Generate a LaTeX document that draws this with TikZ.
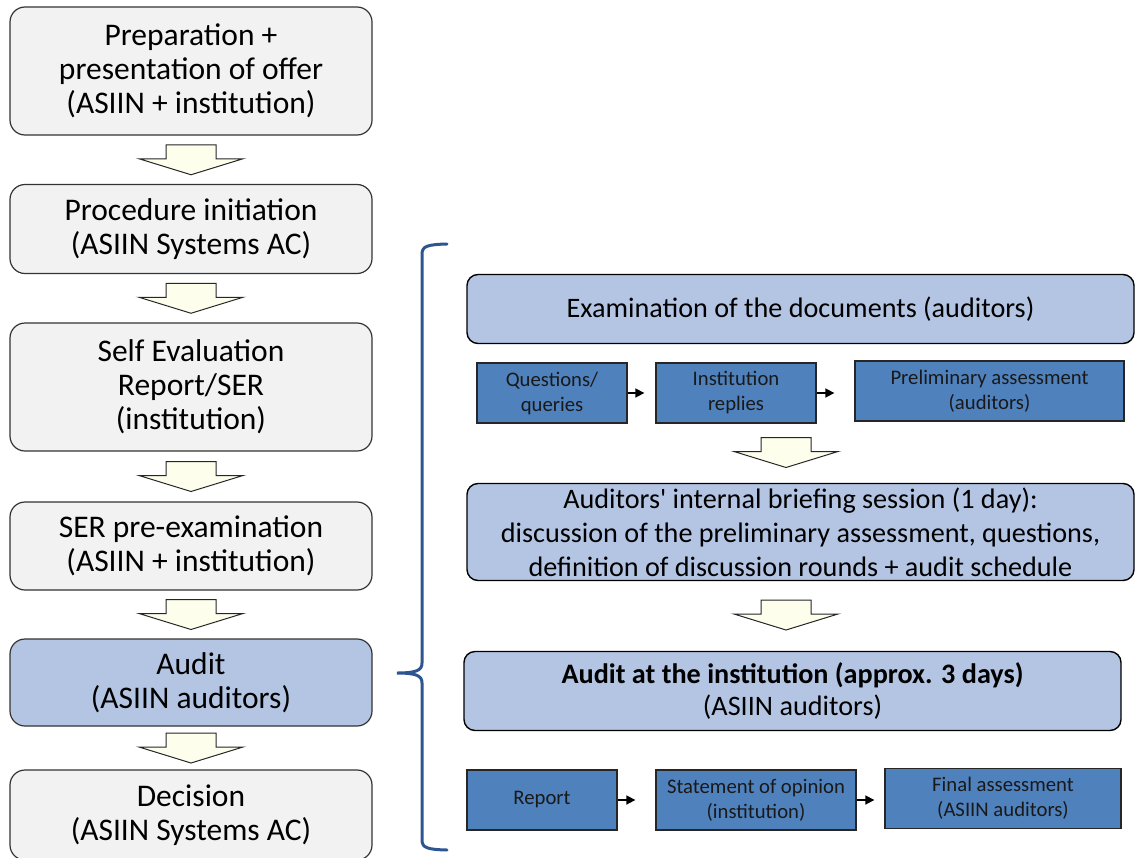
\documentclass[tikz,border=0pt]{standalone}
\usepackage{fontspec}
\setmainfont{Carlito}
\usetikzlibrary{arrows.meta,calc}
\definecolor{leftgray}{HTML}{F2F2F2}
\definecolor{lightblue}{HTML}{B4C5E4}
\definecolor{darkblue}{HTML}{4F81BD}
\definecolor{arrowfill}{HTML}{FEFEEC}
\definecolor{bracecol}{HTML}{2E5591}
\begin{document}
\begin{tikzpicture}[x=1pt,y=-1pt,
  leftbox/.style={draw=black!80, line width=1.2pt, fill=leftgray, rounded corners=15pt,
    minimum width=362pt, align=center, inner sep=0pt, font=\fontsize{31.5}{34}\selectfont},
  rightbox/.style={draw=black, line width=1.4pt, fill=lightblue, rounded corners=11pt,
    align=center, inner sep=0pt, font=\fontsize{28.2}{34}\selectfont},
  smallbox/.style={draw=black!85, line width=1.3pt, fill=darkblue, align=center, inner sep=0pt,
    text=black!90, font=\fontsize{20.7}{25}\selectfont},
  smallarrow/.style={draw=black, line width=1.6pt, -{Triangle[length=9pt,width=9pt]}},
  pics/blockarrow/.style={code={
    \draw[fill=arrowfill, draw=black!85, line width=1pt, line join=miter]
      (-25,-15) -- (25,-15) -- (25,-1) -- (52,-1) -- (0,15) -- (-52,-1) -- (-25,-1) -- cycle;}}
]
\useasboundingbox (0,0) rectangle (1135,857);

% left column
\node[leftbox, minimum height=128pt] (prep) at (191,71) {Preparation +\\presentation of offer\\(ASIIN + institution)};
\node[leftbox, minimum height=89pt] (init) at (191,229) {Procedure initiation\\(ASIIN Systems AC)};
\node[leftbox, minimum height=128pt] (ser) at (191,387) {Self Evaluation\\Report/SER\\(institution)};
\node[leftbox, minimum height=88pt] (pre) at (191,546) {SER pre-examination\\(ASIIN + institution)};
\node[leftbox, fill=lightblue, minimum height=87pt] (audit) at (191,682.5) {Audit\\(ASIIN auditors)};
\node[leftbox, minimum height=90pt] (dec) at (191,815) {Decision\\(ASIIN Systems AC)};

\pic at ($(prep.south)!0.5!(init.north)$) {blockarrow};
\pic at ($(init.south)!0.5!(ser.north)$) {blockarrow};
\pic at ($(ser.south)!0.5!(pre.north)$) {blockarrow};
\pic at ($(pre.south)!0.5!(audit.north)$) {blockarrow};
\pic at ($(audit.south)!0.5!(dec.north)$) {blockarrow};

% brace
\draw[bracecol, line width=3pt, line cap=round]
  (447,244) .. controls (428,244.5) and (422,246) .. (422,254) -- (422,663)
  .. controls (422,670) and (417,673) .. (397,673)
  .. controls (417,673) and (422,676) .. (422,683) -- (422,840)
  .. controls (422,848) and (428,849.5) .. (447,850);

% right column
\node[rightbox, minimum width=667pt, minimum height=69pt] (exam) at (800.5,309) {Examination of the documents (auditors)};
\node[smallbox, minimum width=150pt, minimum height=60pt] (qq) at (552,393) {Questions/\\queries};
\node[smallbox, minimum width=160pt, minimum height=60pt] (ir) at (736,393) {Institution\\replies};
\node[smallbox, minimum width=269pt, minimum height=60pt] (pa) at (989.5,391) {Preliminary assessment\\(auditors)};
\draw[smallarrow, shorten >=11pt] (qq.east) -- (qq.east -| ir.west);
\draw[smallarrow, shorten >=20pt] (ir.east) -- (ir.east -| pa.west);

\pic at (786,452.5) {blockarrow};

\node[rightbox, minimum width=667pt, minimum height=97pt] (brief) at (800.5,532) {Auditors\textquotesingle\ internal briefing session (1 day):\\discussion of the preliminary assessment, questions,\\definition of discussion rounds + audit schedule};

\pic at (786,615) {blockarrow};

\node[rightbox, minimum width=657pt, minimum height=79pt, font=\fontsize{28.2}{32}\selectfont] (inst) at (792.5,691) {\textbf{Audit at the institution (approx. 3 days)}\\(ASIIN auditors)};

\node[smallbox, minimum width=150pt, minimum height=60pt] (rep) at (542,800) {Report};
\node[smallbox, minimum width=200pt, minimum height=60pt] (stat) at (756,800) {Statement of opinion\\(institution)};
\node[smallbox, minimum width=236pt, minimum height=60pt] (fin) at (1003,798.5) {Final assessment\\(ASIIN auditors)};
\draw[smallarrow, shorten >=20pt] (rep.east) -- (rep.east -| stat.west);
\draw[smallarrow, shorten >=10pt] (stat.east) -- (stat.east -| fin.west);
\end{tikzpicture}
\end{document}
